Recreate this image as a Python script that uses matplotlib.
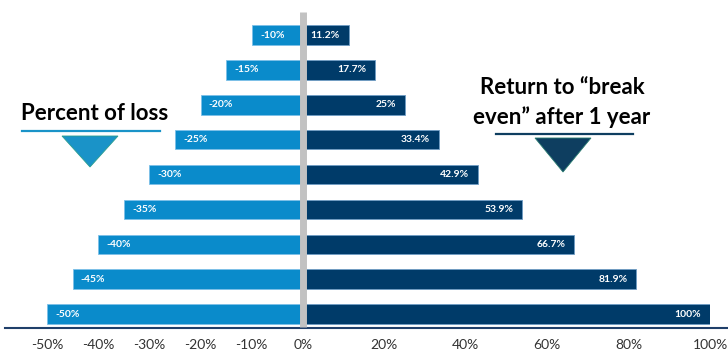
import matplotlib.pyplot as plt
from matplotlib.patches import Polygon
from matplotlib.lines import Line2D

loss = [-50, -45, -40, -35, -30, -25, -20, -15, -10]
gain = [100, 81.9, 66.7, 53.9, 42.9, 33.4, 25, 17.7, 11.2]
gain_lbl = ['100%', '81.9%', '66.7%', '53.9%', '42.9%', '33.4%', '25%', '17.7%', '11.2%']
left_ticks = [-50, -40, -30, -20, -10]
right_ticks = [0, 20, 40, 60, 80, 100]

W, H = 728, 354
light = '#0a8bcb'
dark = '#003b69'

fig = plt.figure(figsize=(W / 100, H / 100), dpi=100)
plt.rcParams['font.family'] = ['Lato', 'DejaVu Sans']

def px(x0, y0, x1, y1):
    return [x0 / W, 1 - y1 / H, (x1 - x0) / W, (y1 - y0) / H]

axL = fig.add_axes(px(47, 12, 303, 328))
axR = fig.add_axes(px(303, 12, 710, 328))
rows = list(range(len(loss)))

axL.barh(rows, loss, height=0.56, color=light, edgecolor='#7cc0e8', lw=0.6)
axR.barh(rows, gain, height=0.56, color=dark, edgecolor='#6f9cc4', lw=0.6)

for r, v in zip(rows, loss):
    axL.text(v + 1.6, r, f'{v}%', color='white', fontsize=7.5, fontweight='bold',
             ha='left', va='center')
for r, v, t in zip(rows, gain, gain_lbl):
    axR.text(v - 2.2, r, t, color='white', fontsize=7.5, fontweight='bold',
             ha='right', va='center')

axL.set_xlim(-50, 0)
axR.set_xlim(0, 100)
for ax in (axL, axR):
    ax.set_ylim(-0.40, 8.66)
    ax.set_yticks([])
    for s in ax.spines.values():
        s.set_visible(False)
    ax.tick_params(axis='x', length=0, pad=8, labelsize=10, labelcolor='#333333')
    ax.patch.set_alpha(0)

axL.set_xticks(left_ticks)
axL.set_xticklabels([f'{t}%' for t in left_ticks])
axR.set_xticks(right_ticks)
axR.set_xticklabels([f'{t}%' for t in right_ticks])

# gray divider at zero
fig.add_artist(Line2D([303 / W] * 2, [1 - 12 / H, 1 - 327 / H], color='#c2c2c2',
                      lw=5, solid_capstyle='butt', zorder=10))

fig.add_artist(Line2D([5 / W, 1], [1 - 328 / H] * 2, color='#1f3f6a', lw=1.5))

# left annotation
fig.text(95 / W, 1 - 113 / H, 'Percent of loss', fontsize=16, fontweight='bold',
         ha='center', va='center', color='black')
fig.add_artist(Line2D([22 / W, 160 / W], [1 - 131 / H] * 2, color='#1a93c8', lw=1.6))
fig.add_artist(Polygon([[62 / W, 1 - 136 / H], [118 / W, 1 - 136 / H], [90 / W, 1 - 167 / H]],
                       closed=True, facecolor='#1a93c8', edgecolor='#2a9d8f', lw=0.6,
                       transform=fig.transFigure))

# right annotation
fig.text(562 / W, 1 - 88 / H, 'Return to \u201cbreak', fontsize=16, fontweight='bold',
         ha='center', va='center', color='black')
fig.text(562 / W, 1 - 117 / H, 'even\u201d after 1 year', fontsize=16, fontweight='bold',
         ha='center', va='center', color='black')
fig.add_artist(Line2D([496 / W, 633 / W], [1 - 134 / H] * 2, color='#0e3e60', lw=1.6))
fig.add_artist(Polygon([[535 / W, 1 - 138 / H], [591 / W, 1 - 138 / H], [563 / W, 1 - 172 / H]],
                       closed=True, facecolor='#0e3e60', edgecolor='#2a7d70', lw=0.6,
                       transform=fig.transFigure))

fig.savefig('out.png', dpi=100)
